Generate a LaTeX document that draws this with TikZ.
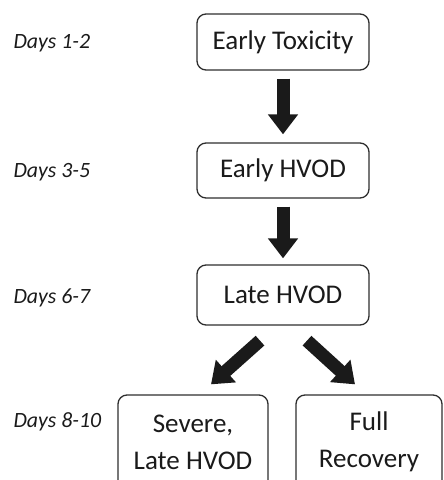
\documentclass[tikz,border=0pt]{standalone}
\usepackage{fontspec}
\setmainfont{Carlito}
\usepackage{xcolor}
\usetikzlibrary{arrows.meta}
\definecolor{boxline}{HTML}{2E2E2E}
\definecolor{inkdark}{HTML}{1A1A1A}

\begin{document}
\begin{tikzpicture}[x=1pt, y=-1pt,
    stage/.style={draw=boxline, line width=1.3pt, rounded corners=9pt, text=inkdark,
        align=center, font=\fontsize{27}{37}\selectfont},
    daylabel/.style={anchor=west, text=inkdark, font=\fontsize{21.8}{24}\selectfont\itshape},
    fatarrow/.style={draw=inkdark, line width=13pt, -{Triangle[width=29pt, length=20pt]}}]
    \useasboundingbox (0,0) rectangle (444,480);
    \node[stage, minimum width=172pt, minimum height=56pt] (tox) at (283,42) {Early Toxicity};
    \node[stage, minimum width=172pt, minimum height=55pt] (early) at (283,170.5) {Early HVOD};
    \node[stage, minimum width=172pt, minimum height=60pt] (late) at (283,295) {Late HVOD};
    \node[stage, minimum width=150pt, minimum height=94pt] (severe) at (193,442) {Severe,\\Late HVOD};
    \node[stage, minimum width=146pt, minimum height=94pt] (full) at (369,442) {Full\\Recovery};
    \node[daylabel] (d1) at (10,43) {Days 1-2};
    \node[daylabel] (d2) at (10,172) {Days 3-5};
    \node[daylabel] (d3) at (10,298) {Days 6-7};
    \node[daylabel] (d4) at (10,422) {Days 8-10};
    \draw[fatarrow, shorten <=8pt, shorten >=8pt] (tox) -- (early);
    \draw[fatarrow, shorten <=8pt, shorten >=6pt] (early) -- (late);
    \draw[fatarrow] ([shift={(-23pt,-15pt)}]late.south) -- ([shift={(18pt,10pt)}]severe.north);
    \draw[fatarrow] ([shift={(24pt,-15pt)}]late.south) -- ([shift={(-14pt,10pt)}]full.north);
\end{tikzpicture}
\end{document}
